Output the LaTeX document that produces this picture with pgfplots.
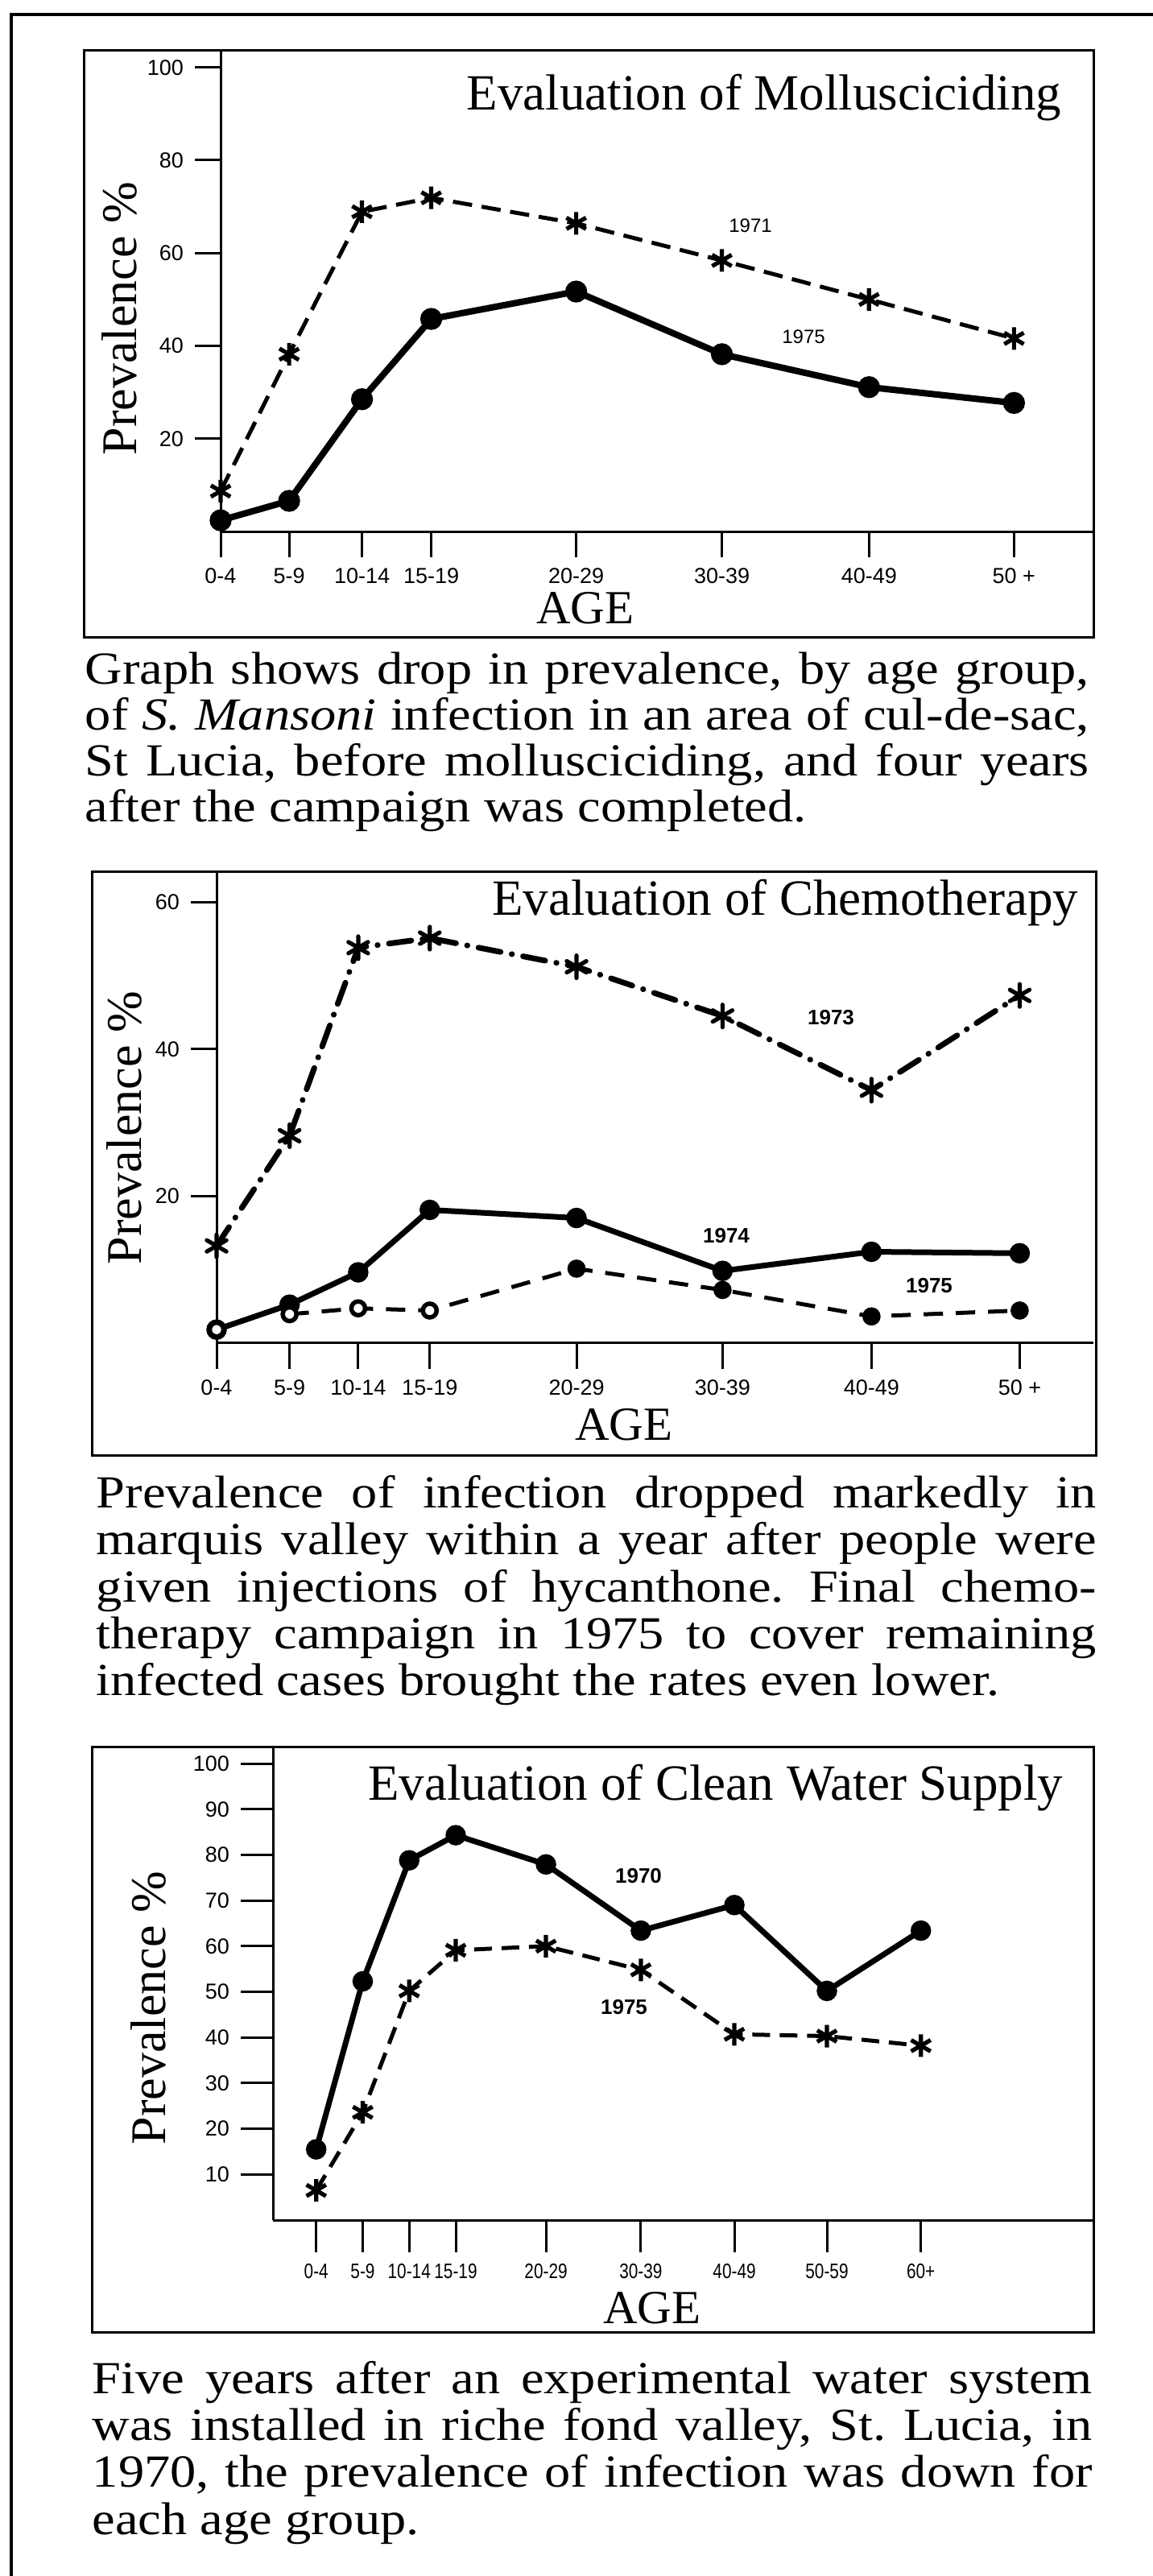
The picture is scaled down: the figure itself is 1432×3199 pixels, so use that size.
\documentclass[border=0pt]{standalone}
\usepackage{fontspec}
\setmainfont{Liberation Serif}
\newfontfamily\capfont{Liberation Serif}[FakeStretch=1.13]
\newfontfamily\tickfont{Liberation Sans}
\newfontfamily\tickfontc{Liberation Sans}[FakeStretch=0.8]
\usepackage{pgfplots}
\pgfplotsset{compat=1.18}
\pgfplotsset{panel/.style={
  scale only axis, anchor=south west,
  axis x line*=bottom, axis y line*=left,
  axis line style={line width=0.75pt, black},
  tick align=outside, major tick length=8pt,
  tick style={line width=0.75pt, black},
  tick label style={font=\tickfont\fontsize{6.75pt}{7pt}\selectfont},
  /pgf/number format/assume math mode=true,
  clip=false, ymin=0
}}
\frenchspacing
\begin{document}
\begin{tikzpicture}
\begin{scope}[x=0.25pt,y=-0.25pt]
\path[use as bounding box] (0,0) rectangle (1432,3199);
\draw[line width=1pt] (14,3199) -- (14,18) -- (1432,18);
\draw[line width=0.75pt] (104,63) rectangle (1358,791);
\draw[line width=0.75pt] (114,1082) rectangle (1361,1807);
\draw[line width=0.75pt] (114,2169) rectangle (1358,2896);
% titles
\node[anchor=base east, inner sep=0, font=\fontsize{15.75pt}{16pt}\selectfont] at (1319,137) {Evaluation of Mollusciciding};
\node[anchor=base east, inner sep=0, font=\fontsize{15.75pt}{16pt}\selectfont] at (1340,1136) {Evaluation of Chemotherapy};
\node[anchor=base east, inner sep=0, font=\fontsize{15.75pt}{16pt}\selectfont] at (1321,2235) {Evaluation of Clean Water Supply};
% y labels
\node[rotate=90, anchor=base west, inner sep=0, font=\fontsize{15.5pt}{16pt}\selectfont] at (169,566) {Prevalence \%};
\node[rotate=90, anchor=base west, inner sep=0, font=\fontsize{15.5pt}{16pt}\selectfont] at (175,1571) {Prevalence \%};
\node[rotate=90, anchor=base west, inner sep=0, font=\fontsize{15.5pt}{16pt}\selectfont] at (205,2664) {Prevalence \%};
% AGE
\node[anchor=base, inner sep=0, font=\fontsize{14.75pt}{15pt}\selectfont] at (727,774) {AGE};
\node[anchor=base, inner sep=0, font=\fontsize{14.75pt}{15pt}\selectfont] at (775,1788) {AGE};
\node[anchor=base, inner sep=0, font=\fontsize{14.75pt}{15pt}\selectfont] at (810,2885) {AGE};
% series labels
\node[inner sep=0, font=\tickfont\fontsize{6pt}{7pt}\selectfont] at (932,280) {1971};
\node[inner sep=0, font=\tickfont\fontsize{6pt}{7pt}\selectfont] at (998,418) {1975};
\node[inner sep=0, font=\tickfont\bfseries\fontsize{6.5pt}{7pt}\selectfont] at (1032,1264) {1973};
\node[inner sep=0, font=\tickfont\bfseries\fontsize{6.5pt}{7pt}\selectfont] at (902,1535) {1974};
\node[inner sep=0, font=\tickfont\bfseries\fontsize{6.5pt}{7pt}\selectfont] at (1154,1597) {1975};
\node[inner sep=0, font=\tickfont\bfseries\fontsize{6.5pt}{7pt}\selectfont] at (793,2330) {1970};
\node[inner sep=0, font=\tickfont\bfseries\fontsize{6.5pt}{7pt}\selectfont] at (775,2493) {1975};
% captions
\begin{scope}[every node/.style={anchor=base west, inner sep=0, font=\capfont\fontsize{14.25pt}{14.5pt}\selectfont}]
\node at (105,849) {\makebox[311.75pt][s]{Graph shows drop in prevalence, by age group,}};
\node at (105,906) {\makebox[311.75pt][s]{of \textit{S. Mansoni} infection in an area of cul-de-sac,}};
\node at (105,963) {\makebox[311.75pt][s]{St Lucia, before mollusciciding, and four years}};
\node at (105,1020) {after the campaign was completed.};
\node at (119,1872) {\makebox[310.5pt][s]{Prevalence of infection dropped markedly in}};
\node at (119,1930) {\makebox[310.5pt][s]{marquis valley within a year after people were}};
\node at (119,1989) {\makebox[310.5pt][s]{given injections of hycanthone. Final chemo-}};
\node at (119,2047) {\makebox[310.5pt][s]{therapy campaign in 1975 to cover remaining}};
\node at (119,2105) {infected cases brought the rates even lower.};
\node at (114,2972) {\makebox[310.5pt][s]{Five years after an experimental water system}};
\node at (114,3030) {\makebox[310.5pt][s]{was installed in riche fond valley, St. Lucia, in}};
\node at (114,3088) {\makebox[310.5pt][s]{1970, the prevalence of infection was down for}};
\node at (114,3147) {each age group.};
\end{scope}
\end{scope}

% Panel 1: Mollusciciding
\begin{axis}[panel, at={(68.5pt,-165pt)}, width=270.75pt, height=149.25pt,
  xmin=0, xmax=12.09, ymax=103.6,
  xtick={0,0.95,1.96,2.92,4.93,6.95,8.99,11},
  xticklabels={0-4,5-9,10-14,15-19,20-29,30-39,40-49,50 +},
  ytick={20,40,60,80,100}]
\addplot[line width=1.25pt, dash pattern=on 6pt off 3pt, mark=asterisk, mark size=3.5pt, mark options={solid, line width=1.3pt}]
  coordinates {(0,8.7) (0.95,38.2) (1.96,68.9) (2.92,71.9) (4.93,66.4) (6.95,58.4) (8.99,50) (11,41.6)};
\addplot[line width=2pt, mark=*, mark size=2.4pt, mark options={solid}]
  coordinates {(0,2.4) (0.95,6.6) (1.96,28.5) (2.92,45.8) (4.93,51.7) (6.95,38.2) (8.99,31.1) (11,27.7)};
\end{axis}

% Panel 2: Chemotherapy
\begin{axis}[panel, at={(67.25pt,-416.9pt)}, width=272.25pt, height=146.4pt,
  xmin=0, xmax=12.01, ymax=64.2,
  xtick={0,1.0,1.94,2.92,4.93,6.93,8.97,11},
  xticklabels={0-4,5-9,10-14,15-19,20-29,30-39,40-49,50 +},
  ytick={20,40,60}]
\addplot[line width=1.75pt, line cap=round, dash pattern=on 7pt off 3.5pt on 0.1pt off 3.5pt, mark=asterisk, mark size=3.5pt, mark options={solid, line width=1.3pt}]
  coordinates {(0,13.2) (1.0,28.2) (1.94,53.8) (2.92,55.1) (4.93,51.2) (6.93,44.5) (8.97,34.4) (11,47.3)};
\addplot[line width=1.75pt, mark=*, mark size=2.3pt, mark options={solid}]
  coordinates {(0,1.8) (1.0,5.2) (1.94,9.6) (2.92,18.1) (4.93,17.0) (6.93,9.8) (8.97,12.4) (11,12.2)};
\addplot[line width=1.25pt, dash pattern=on 6pt off 4pt, mark=*, mark size=2.2pt, mark options={solid}]
  coordinates {(1.0,3.9) (1.94,4.7) (2.92,4.4) (4.93,10.1) (6.93,7.2) (8.97,3.6) (11,4.4)};
\addplot[only marks, mark=*, mark size=2pt, mark options={solid, fill=white, draw=black, line width=1.1pt}]
  coordinates {(0,1.8) (1.0,3.9) (1.94,4.7) (2.92,4.4)};
\end{axis}

% Panel 3: Clean water supply
\begin{axis}[panel, at={(84.75pt,-689.25pt)}, width=254.75pt, height=147pt,
  major tick length=10pt,
  xmin=-0.93, xmax=16.71, ymax=103.7,
  xtick={0,1,2,3,4.94,6.98,8.99,10.98,13},
  xticklabels={0-4,5-9,10-14,15-19,20-29,30-39,40-49,50-59,60+},
  x tick label style={font=\tickfontc\fontsize{6.5pt}{7pt}\selectfont},
  ytick={10,20,30,40,50,60,70,80,90,100}]
\addplot[line width=1.75pt, mark=*, mark size=2.3pt, mark options={solid}]
  coordinates {(0,15.5) (1,52.3) (2,78.8) (3,84.3) (4.94,77.9) (6.98,63.4) (8.99,69.0) (10.98,50.2) (13,63.4)};
\addplot[line width=1.25pt, dash pattern=on 5.5pt off 3pt, mark=asterisk, mark size=3.5pt, mark options={solid, line width=1.3pt}]
  coordinates {(0,6.5) (1,23.6) (2,50.2) (3,59.1) (4.94,60.0) (6.98,54.8) (8.99,40.7) (10.98,40.3) (13,38.2)};
\end{axis}
\end{tikzpicture}
\end{document}
